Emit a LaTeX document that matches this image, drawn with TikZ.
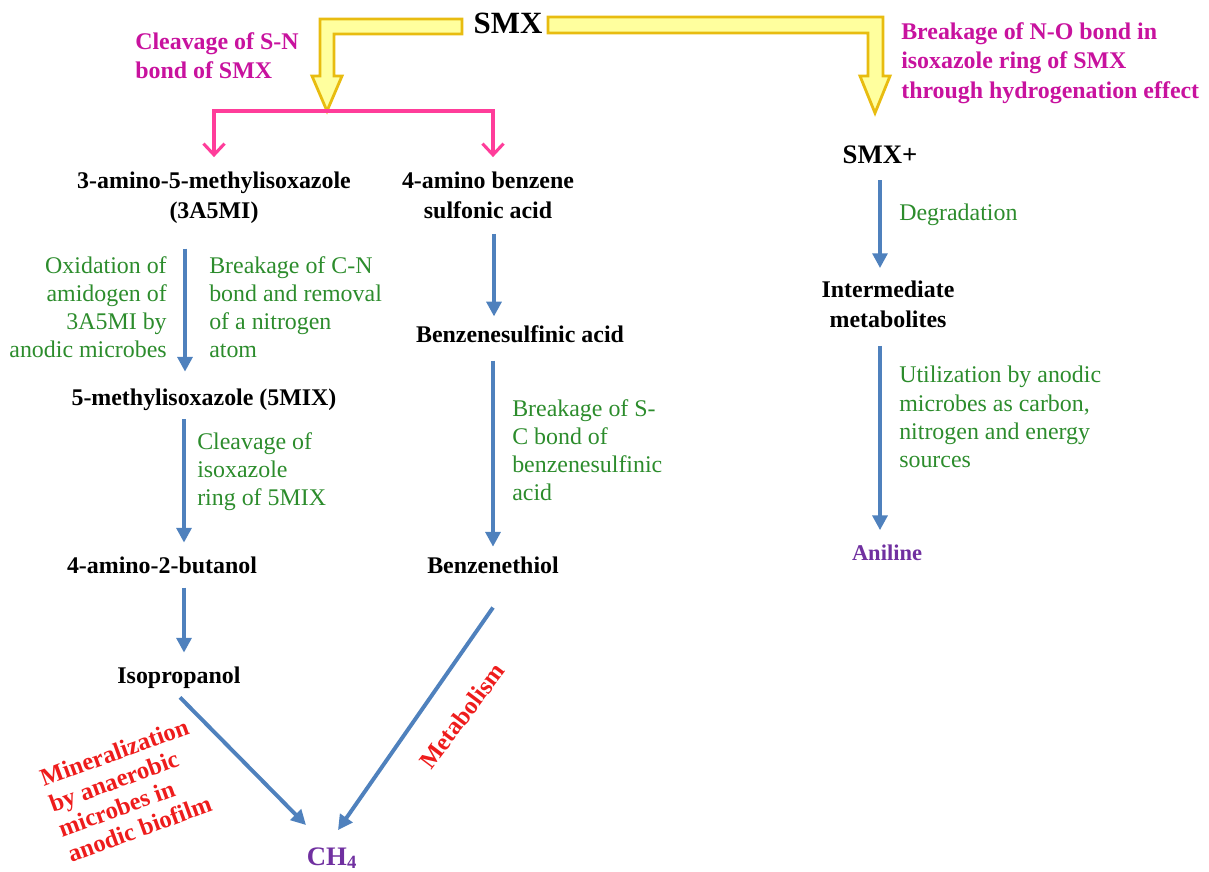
\documentclass[tikz,border=0pt]{standalone}
\usepackage{fontspec}
\setmainfont{Liberation Serif}
\usepackage{tikz}
\usetikzlibrary{arrows.meta,calc}
\definecolor{flowblue}{HTML}{4F81BD}
\definecolor{notegreen}{HTML}{2C8C2C}
\definecolor{routepink}{HTML}{C8129E}
\definecolor{splitpink}{HTML}{FF3D9A}
\definecolor{labred}{HTML}{EE1C1C}
\definecolor{prodpurple}{HTML}{7030A0}
\definecolor{bandgold}{HTML}{E8BC10}
\definecolor{bandfill}{HTML}{FFFF9E}
\tikzset{
  chem/.style ={inner sep=0pt, align=center, font=\fontsize{17}{21}\selectfont\bfseries},
  prod/.style ={chem, text=prodpurple},
  note/.style ={inner sep=0pt, align=left, font=\fontsize{17}{20}\selectfont, text=notegreen},
  rnote/.style={note, align=right},
  route/.style={inner sep=0pt, align=left, font=\fontsize{17}{21}\selectfont\bfseries, text=routepink},
  mech/.style ={inner sep=0pt, align=left, font=\fontsize{17.5}{19}\selectfont\bfseries, text=labred},
  flow/.style ={-{Triangle[length=10.5pt,width=10.5pt]}, line width=2.8pt, draw=flowblue},
  split/.style={-{Straight Barb[length=8pt,width=15pt]}, line width=2.2pt, draw=splitpink},
  band/.style ={fill=bandfill, draw=bandgold, line width=2pt, line join=miter},
}

\begin{document}
\begin{tikzpicture}[x=0.025cm, y=-0.025cm]
  \useasboundingbox (0,0) rectangle (1209,871);
  % parent compound and the two routes
  \node[chem, font=\fontsize{22}{26}\selectfont\bfseries, anchor=base] (smx) at (508,33) {SMX};
  \coordinate (lsplit) at (327,111);
  \coordinate (rtip) at (875,113);
  \draw[band] (462,19) -- (320,19) -- (320,76) -- (312,76) -- (lsplit) -- (342,76) -- (334,76) -- (334,34) -- (462,34) -- cycle;
  \draw[band] (548,17) -- (883,17) -- (883,76) -- (890,76) -- (rtip) -- (860,76) -- (868,76) -- (868,33) -- (548,33) -- cycle;
  \node[route, anchor=north west] (snlab) at (135,32) {Cleavage of S-N\\bond of SMX};
  \node[route, anchor=north west] (nolab) at (901,22) {Breakage of N-O bond in\\isoxazole ring of SMX\\through hydrogenation effect};

  % S-N cleavage products
  \node[chem, anchor=north] (mi) at (214,172) {3-amino-5-methylisoxazole\\(3A5MI)};
  \node[chem, anchor=north] (abs) at (488,172) {4-amino benzene\\sulfonic acid};
  \draw[split, shorten >=10.6pt] (lsplit) -| (mi.north);
  \draw[split, shorten >=10.6pt] (lsplit) -| ($(abs.north)+(5,0)$);

  % left column
  \node[chem, anchor=base] (mix) at (204,405) {5-methylisoxazole (5MIX)};
  \node[chem, anchor=base] (amb) at (162,573) {4-amino-2-butanol};
  \node[chem, anchor=base] (iso) at (179,683) {Isopropanol};
  \node[rnote, anchor=north east] (oxd) at (167,256) {Oxidation of\\amidogen of\\3A5MI by\\anodic microbes};
  \node[note, anchor=north west] (cnb) at (209,256) {Breakage of C-N\\bond and removal\\of a nitrogen\\atom};
  \node[note, anchor=north west] (rng) at (197,432) {Cleavage of\\isoxazole\\ring of 5MIX};
  \draw[flow, shorten <=17.7pt, shorten >=11.7pt] (185,0 |- mi.south) -- (185,0 |- mix.north);
  \draw[flow, shorten <=6.4pt, shorten >=9.6pt] (184,0 |- mix.south) -- (184,0 |- amb.north);
  \draw[flow, shorten <=9.9pt, shorten >=9.6pt] (184,0 |- amb.south) -- (184,0 |- iso.north);

  % middle column
  \node[chem, anchor=base] (bsa) at (520,342) {Benzenesulfinic acid};
  \node[chem, anchor=base] (bth) at (493,573) {Benzenethiol};
  \node[note, anchor=north west] (scb) at (512,399) {Breakage of S-\\C bond of\\benzenesulfinic\\acid};
  \draw[flow, shorten <=10.6pt, shorten >=6pt] (494,0 |- abs.south) -- (494,0 |- bsa.north);
  \draw[flow, shorten <=12.8pt, shorten >=6.7pt] (493,0 |- bsa.south) -- (493,0 |- bth.north);

  % methane
  \node[prod, font=\fontsize{19}{22}\selectfont\bfseries, anchor=base] (ch4) at (332,865) {CH\textsubscript{4}};
  \draw[flow] ($(iso.south)+(1,9)$) -- ($(ch4.north)+(-26,-22)$);
  \draw[flow] ($(bth.south)+(0,34)$) -- ($(ch4.north)+(6,-17)$);
  \node[mech, rotate=20] (mnl) at (128,790) {Mineralization\\by anaerobic\\microbes in\\anodic biofilm};
  \node[mech, rotate=53] (mtb) at (462,716) {Metabolism};

  % right column
  \node[chem, font=\fontsize{19}{22}\selectfont\bfseries, anchor=base] (smxp) at (880,163) {SMX+};
  \node[chem, anchor=north] (inter) at (888,281) {Intermediate\\metabolites};
  \node[prod, font=\fontsize{16}{20}\selectfont\bfseries, anchor=base] (anil) at (887,560) {Aniline};
  \node[note, anchor=base west] (deg) at (899,220) {Degradation};
  \node[note, anchor=north west] (utl) at (899,366) {Utilization by anodic\\microbes as carbon,\\nitrogen and energy\\sources};
  \draw[flow, shorten <=12pt, shorten >=9.2pt] (880,0 |- smxp.south) -- (880,0 |- inter.north);
  \draw[flow, shorten <=12.8pt, shorten >=9.9pt] (880,0 |- inter.south) -- (880,0 |- anil.north);
\end{tikzpicture}
\end{document}
